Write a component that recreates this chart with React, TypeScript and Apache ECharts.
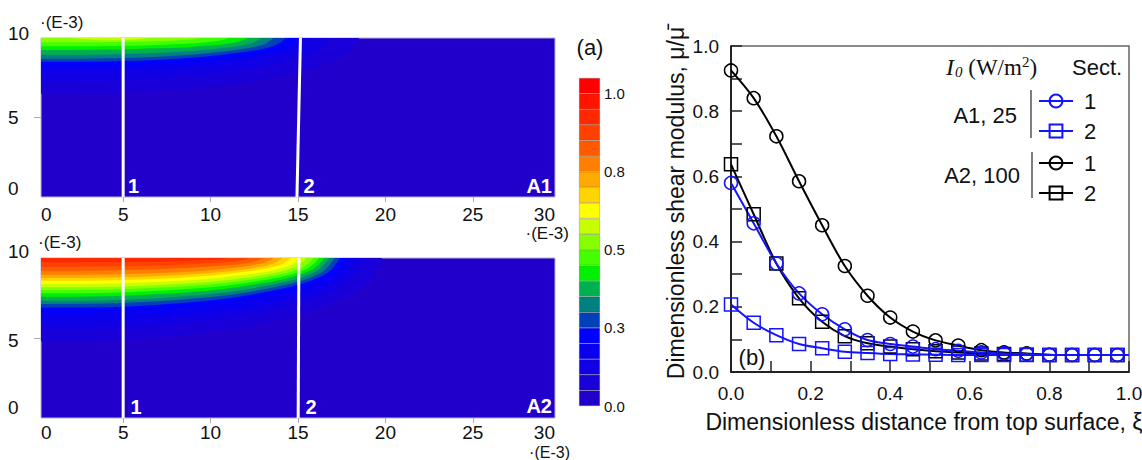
import React, { useEffect, useRef } from "react";
import * as echarts from "echarts";

const FONT = "'Liberation Sans', Arial, Helvetica, sans-serif";
const SERIF = "'Liberation Serif', 'Times New Roman', serif";

// ---------- colour scale ----------
const bandEdges = [0, 0.05, 0.1, 0.15, 0.2, 0.25, 0.3, 0.35, 0.4, 0.45, 0.5, 0.55, 0.6, 0.65, 0.7, 0.75, 0.8, 0.85, 0.9, 0.95, 1.0, 1.05];
const bandColors = [
  "#2200cc", "#1a00d8", "#1200e4", "#0a00f0", "#0000ff", "#0040b8", "#008080", "#00b050",
  "#00f000", "#44ff00", "#88ff00", "#c8ff00", "#ffff00", "#ffd400", "#ffaa00", "#ff8000",
  "#ff5a00", "#ff4000", "#ff2800", "#ff1400", "#ff0000",
];
const colorbarTicks = [0, 0.25, 0.5, 0.75, 1.0];

// ---------- panel (a) axes ----------
const contourXTicks = [5, 10, 15, 20, 25];
const contourXLabels = [0.3, 5, 10, 15, 20, 25, 29.7];
const contourYTicks = [5];

// ---------- panel (a) contour boundaries (lower edge of each colour band) ----------
const a1Levels = [0.05, 0.1, 0.15, 0.2, 0.25, 0.3, 0.35, 0.4, 0.45, 0.5, 0.55];
const a1Bounds = [
  [[0, 6.5], [2, 6.5], [10.25, 6.97], [15.2, 7.9], [17.68, 8.91], [18.5, 10]],
  [[0, 7.3], [2, 7.3], [9.4, 7.66], [13.84, 8.38], [16.06, 9.16], [16.8, 10]],
  [[0, 7.9], [2, 7.9], [8.8, 8.18], [12.88, 8.74], [14.92, 9.35], [15.6, 10]],
  [[0, 8.25], [2, 8.25], [8.55, 8.48], [12.48, 8.95], [14.45, 9.45], [15.1, 10]],
  [[0, 8.5], [2, 8.5], [8.15, 8.7], [11.84, 9.1], [13.69, 9.53], [14.3, 10]],
  [[0, 8.7], [2, 8.7], [7.8, 8.87], [11.28, 9.22], [13.02, 9.59], [13.6, 10]],
  [[0, 8.95], [2, 8.95], [7.45, 9.09], [10.72, 9.37], [12.36, 9.67], [12.9, 10]],
  [[0, 9.25], [2, 9.25], [7.05, 9.35], [10.08, 9.55], [11.6, 9.77], [12.1, 10]],
  [[0, 9.48], [2, 9.48], [6.5, 9.55], [9.2, 9.69], [10.55, 9.84], [11, 10]],
  [[0, 9.73], [2, 9.73], [5.7, 9.77], [7.92, 9.84], [9.03, 9.92], [9.4, 10]],
  [[1.9, 10], [3.5, 9.88], [5, 9.86], [6, 9.93], [6.4, 10]],
];
const a2Levels = [0.05, 0.1, 0.15, 0.2, 0.25, 0.3, 0.35, 0.4, 0.45, 0.5, 0.55, 0.6, 0.65, 0.7, 0.75, 0.8, 0.85, 0.9];
const a2Bounds = [
  [[0, 4.8], [2, 4.8], [10.9, 5.5], [16.24, 6.88], [18.91, 8.38], [19.8, 10]],
  [[0, 5.56], [2, 5.56], [10.45, 6.16], [15.52, 7.34], [18.06, 8.61], [18.9, 10]],
  [[0, 6.08], [2, 6.08], [10.15, 6.61], [15.04, 7.65], [17.49, 8.78], [18.3, 10]],
  [[0, 6.6], [2, 6.6], [9.9, 7.06], [14.64, 7.96], [17.01, 8.94], [17.8, 10]],
  [[0, 6.9], [2, 6.9], [9.7, 7.32], [14.32, 8.14], [16.63, 9.03], [17.4, 10]],
  [[0, 7.13], [2, 7.13], [9.55, 7.51], [14.08, 8.28], [16.35, 9.1], [17.1, 10]],
  [[0, 7.33], [2, 7.33], [9.4, 7.69], [13.84, 8.4], [16.06, 9.17], [16.8, 10]],
  [[0, 7.58], [2, 7.58], [9.25, 7.9], [13.6, 8.55], [15.78, 9.25], [16.5, 10]],
  [[0, 7.79], [2, 7.79], [9.1, 8.09], [13.36, 8.67], [15.49, 9.31], [16.2, 10]],
  [[0, 8.0], [2, 8.0], [8.95, 8.27], [13.12, 8.8], [15.2, 9.38], [15.9, 10]],
  [[0, 8.17], [2, 8.17], [8.75, 8.42], [12.8, 8.9], [14.83, 9.43], [15.5, 10]],
  [[0, 8.38], [2, 8.38], [8.55, 8.6], [12.48, 9.03], [14.45, 9.49], [15.1, 10]],
  [[0, 8.58], [2, 8.58], [8.3, 8.77], [12.08, 9.15], [13.97, 9.56], [14.6, 10]],
  [[0, 8.75], [2, 8.75], [8.05, 8.92], [11.68, 9.25], [13.5, 9.61], [14.1, 10]],
  [[0, 8.96], [2, 8.96], [7.8, 9.1], [11.28, 9.38], [13.02, 9.68], [13.6, 10]],
  [[0, 9.21], [2, 9.21], [7.5, 9.32], [10.8, 9.53], [12.45, 9.75], [13, 10]],
  [[0, 9.46], [2, 9.46], [7.1, 9.53], [10.16, 9.68], [11.69, 9.83], [12.2, 10]],
  [[0, 9.73], [2, 9.73], [6.5, 9.77], [9.2, 9.84], [10.55, 9.92], [11, 10]],
];
const a1SectionLines = [
  [[5, 0], [5, 10]],
  [[14.94, 0], [15.14, 10]],
];
const a2SectionLines = [
  [[5, 0], [5, 10]],
  [[15.01, 0], [15.05, 10]],
];

// ---------- panel (b) ----------
const xi = [0, 0.057, 0.114, 0.171, 0.229, 0.286, 0.343, 0.4, 0.457, 0.514, 0.571, 0.629, 0.686, 0.743, 0.8, 0.857, 0.914, 0.971];
const a2Sect1 = [0.925, 0.84, 0.723, 0.585, 0.45, 0.325, 0.234, 0.167, 0.124, 0.097, 0.081, 0.067, 0.06, 0.057, 0.053, 0.052, 0.052, 0.052];
const a2Sect2 = [0.637, 0.484, 0.333, 0.226, 0.154, 0.11, 0.088, 0.078, 0.07, 0.064, 0.06, 0.057, 0.055, 0.053, 0.052, 0.052, 0.052, 0.052];
const a1Sect1 = [0.58, 0.456, 0.333, 0.241, 0.177, 0.131, 0.098, 0.086, 0.078, 0.07, 0.065, 0.06, 0.057, 0.055, 0.053, 0.052, 0.052, 0.052];
const a1Sect2 = [0.207, 0.151, 0.113, 0.086, 0.073, 0.062, 0.058, 0.055, 0.054, 0.053, 0.052, 0.052, 0.052, 0.052, 0.052, 0.052, 0.052, 0.052];
const bLabelValues = [0, 0.2, 0.4, 0.6, 0.8, 1.0];

const colorOf = (level: number) => bandColors[Math.round(level / 0.05)];

function contourSeries(levels: number[], bounds: number[][][], gi: number) {
  return levels.map((L, i) => ({
    type: "line",
    xAxisIndex: gi,
    yAxisIndex: gi,
    data: bounds[i],
    smooth: 0.35,
    symbol: "none",
    silent: true,
    lineStyle: { width: 0, opacity: 0 },
    areaStyle: { color: colorOf(L), opacity: 1, origin: "end" },
  }));
}

function sectionSeries(lines: number[][][], gi: number) {
  return lines.map((d) => ({
    type: "line",
    xAxisIndex: gi,
    yAxisIndex: gi,
    data: d,
    symbol: "none",
    silent: true,
    z: 5,
    lineStyle: { color: "#ffffff", width: 3 },
  }));
}

function contourXAxis(gi: number, margin: number) {
  return {
    gridIndex: gi,
    type: "value",
    min: 0.3,
    max: 29.7,
    axisLine: { show: false },
    splitLine: { show: false },
    axisTick: { show: true, customValues: contourXTicks, length: 5, lineStyle: { color: "#aaaaaa" } },
    axisLabel: {
      customValues: contourXLabels,
      formatter: (v: number) => String(Math.round(v)),
      alignMinLabel: "left",
      alignMaxLabel: "right",
      fontSize: 19,
      color: "#111",
      fontFamily: FONT,
      margin,
    },
  };
}

function contourYAxis(gi: number, pt: number[], pm: number[], pb: number[]) {
  const base = { fontSize: 19, color: "#111", fontFamily: FONT };
  return {
    gridIndex: gi,
    type: "value",
    min: 0,
    max: 10,
    interval: 5,
    axisLine: { show: false },
    splitLine: { show: false },
    axisTick: { show: true, customValues: contourYTicks, length: 7, lineStyle: { color: "#aaaaaa" } },
    axisLabel: {
      align: "left",
      margin: 33,
      formatter: (v: number) => (v >= 10 ? "{t|10}" : v >= 5 ? "{m|5}" : "{b|0}"),
      rich: {
        t: { ...base, padding: pt },
        m: { ...base, padding: pm },
        b: { ...base, padding: pb },
      },
    },
  };
}

function bSeries(name: string, vals: number[], color: string, symbol: string) {
  const data: any[] = xi.map((x, i) => [x, vals[i]]);
  data.push({ value: [1, vals[vals.length - 1]], symbol: "none" });
  return {
    type: "line",
    name,
    xAxisIndex: 3,
    yAxisIndex: 3,
    data,
    smooth: 0.3,
    symbol,
    symbolSize: 13,
    silent: true,
    lineStyle: { color, width: 2 },
    itemStyle: { color: "rgba(255,255,255,0)", borderColor: color, borderWidth: 1.5 },
  };
}

function legendFor(name: string, top: number) {
  return {
    data: [name],
    left: 1038,
    top,
    padding: 0,
    itemWidth: 34,
    itemHeight: 16,
    selectedMode: false,
    formatter: (n: string) => n.split("-")[1],
    textStyle: { fontSize: 22, color: "#111", fontFamily: FONT, lineHeight: 16, padding: [0, 0, 0, 6] },
  };
}

function txt(x: number, y: number, text: string, size: number, align: string, extra: any = {}) {
  return {
    type: "text",
    x,
    y,
    z: 100,
    silent: true,
    style: {
      text,
      fontSize: size,
      fontFamily: FONT,
      fill: "#111",
      align,
      textAlign: align,
      verticalAlign: "middle",
      textVerticalAlign: "middle",
      ...extra,
    },
  };
}

const white = { fill: "#ffffff", fontWeight: "bold" };

const option: any = {
  animation: false,
  backgroundColor: "#ffffff",
  textStyle: { fontFamily: FONT },
  grid: [
    { left: 41, top: 38, width: 514, height: 159, show: true, backgroundColor: bandColors[0], borderColor: "#b4b4d2", borderWidth: 1, outerBoundsMode: "none" },
    { left: 41, top: 258, width: 514, height: 160, show: true, backgroundColor: bandColors[0], borderColor: "#b4b4d2", borderWidth: 1, outerBoundsMode: "none" },
    { left: 579, top: 78, width: 21, height: 328, outerBoundsMode: "none" },
    { left: 731, top: 46, width: 398, height: 326, show: true, borderColor: "#666666", borderWidth: 1.5, outerBoundsMode: "none" },
  ],
  xAxis: [
    contourXAxis(0, 8),
    contourXAxis(1, 5),
    { gridIndex: 2, type: "category", data: ["c"], show: false },
    {
      gridIndex: 3,
      type: "value",
      min: 0,
      max: 1,
      interval: 0.1,
      name: "Dimensionless distance from top surface, ξ",
      nameLocation: "middle",
      nameGap: 38,
      nameTextStyle: { fontSize: 23, color: "#111", fontFamily: FONT, padding: [0, 12, 0, 0] },
      axisLine: { show: true, onZero: false, lineStyle: { color: "#000", width: 1.5 } },
      axisTick: { show: true, inside: true, length: 11, lineStyle: { color: "#222", width: 1.5 } },
      axisLabel: { customValues: bLabelValues, formatter: (v: number) => v.toFixed(1), fontSize: 19, color: "#111", fontFamily: FONT, margin: 12 },
      splitLine: { show: false },
    },
  ],
  yAxis: [
    contourYAxis(0, [0, 0, 10, 0], [0, 0, 0, 0], [0, 0, 18, 0]),
    contourYAxis(1, [0, 0, 14, 0], [4, 0, 0, 0], [0, 0, 22, 0]),
    {
      gridIndex: 2,
      type: "value",
      min: 0,
      max: 1.05,
      position: "right",
      axisLine: { show: false },
      axisTick: { show: false },
      splitLine: { show: false },
      axisLabel: { customValues: colorbarTicks, formatter: (v: number) => v.toFixed(1), fontSize: 15, color: "#111", fontFamily: FONT, margin: 4 },
    },
    {
      gridIndex: 3,
      type: "value",
      min: 0,
      max: 1,
      interval: 0.1,
      name: "Dimensionless shear modulus, μ/μ\u0304",
      nameLocation: "middle",
      nameGap: 44,
      nameTextStyle: { fontSize: 23, color: "#111", fontFamily: FONT, padding: [0, 0, 0, 12] },
      axisLine: { show: true, onZero: false, lineStyle: { color: "#000", width: 1.5 } },
      axisTick: { show: true, inside: true, length: 11, lineStyle: { color: "#222", width: 1.5 } },
      axisLabel: { customValues: bLabelValues, formatter: (v: number) => v.toFixed(1), fontSize: 19, color: "#111", fontFamily: FONT, margin: 12 },
      splitLine: { show: false },
    },
  ],
  legend: [legendFor("A1-1", 90), legendFor("A1-2", 120), legendFor("A2-1", 152), legendFor("A2-2", 182)],
  series: [
    ...contourSeries(a1Levels, a1Bounds, 0),
    ...sectionSeries(a1SectionLines, 0),
    ...contourSeries(a2Levels, a2Bounds, 1),
    ...sectionSeries(a2SectionLines, 1),
    ...bandColors.map((c, i) => ({
      type: "bar",
      xAxisIndex: 2,
      yAxisIndex: 2,
      stack: "cb",
      barWidth: "100%",
      silent: true,
      data: [bandEdges[i + 1] - bandEdges[i]],
      itemStyle: { color: c, borderColor: "rgba(40,40,40,0.35)", borderWidth: 0.6 },
    })),
    bSeries("A2-1", a2Sect1, "#000000", "circle"),
    bSeries("A2-2", a2Sect2, "#000000", "rect"),
    bSeries("A1-1", a1Sect1, "#1414ff", "circle"),
    bSeries("A1-2", a1Sect2, "#1414ff", "rect"),
  ],
  graphic: [
    txt(40, 22, "·(E-3)", 17, "left"),
    txt(569, 233, "·(E-3)", 17, "right"),
    txt(38, 242, "·(E-3)", 17, "left"),
    txt(570, 452, "·(E-3)", 16, "right"),
    txt(590, 47, "(a)", 22, "center"),
    txt(133.5, 186, "1", 20, "center", white),
    txt(309, 186, "2", 20, "center", white),
    txt(552, 186, "A1", 20, "right", white),
    txt(136, 407, "1", 20, "center", white),
    txt(311, 407, "2", 20, "center", white),
    txt(552, 406, "A2", 20, "right", white),
    txt(752, 357, "(b)", 22, "center"),
    {
      type: "text",
      x: 946,
      y: 67,
      z: 100,
      silent: true,
      style: {
        text: "{i|I}{s|0}{n| (W/m}{p|2}{n|)}",
        fill: "#111",
        align: "left",
        textAlign: "left",
        verticalAlign: "middle",
        textVerticalAlign: "middle",
        rich: {
          i: { fontFamily: SERIF, fontStyle: "italic", fontSize: 24, fill: "#111" },
          s: { fontFamily: SERIF, fontStyle: "italic", fontSize: 15, padding: [10, 0, 0, 1], fill: "#111" },
          n: { fontFamily: SERIF, fontSize: 23, fill: "#111" },
          p: { fontFamily: SERIF, fontSize: 15, padding: [0, 0, 10, 0], fill: "#111" },
        },
      },
    },
    txt(1072, 67, "Sect.", 22, "left"),
    txt(1017, 115, "A1, 25", 22, "right"),
    txt(1020, 175, "A2, 100", 22, "right"),
    { type: "line", z: 100, silent: true, shape: { x1: 1031, y1: 90, x2: 1031, y2: 138 }, style: { stroke: "#555", lineWidth: 1.5 } },
    { type: "line", z: 100, silent: true, shape: { x1: 1032, y1: 152, x2: 1032, y2: 198 }, style: { stroke: "#555", lineWidth: 1.5 } },
  ],
};

export default function App() {
  const ref = useRef<HTMLDivElement>(null);
  useEffect(() => {
    const chart = echarts.init(ref.current!, null, { renderer: "svg" });
    chart.setOption(option);
    return () => chart.dispose();
  }, []);
  return (
    <div
      ref={ref}
      style={{ position: "fixed", left: 0, top: 0, width: 1142, height: 460, background: "#fff" }}
    />
  );
}
